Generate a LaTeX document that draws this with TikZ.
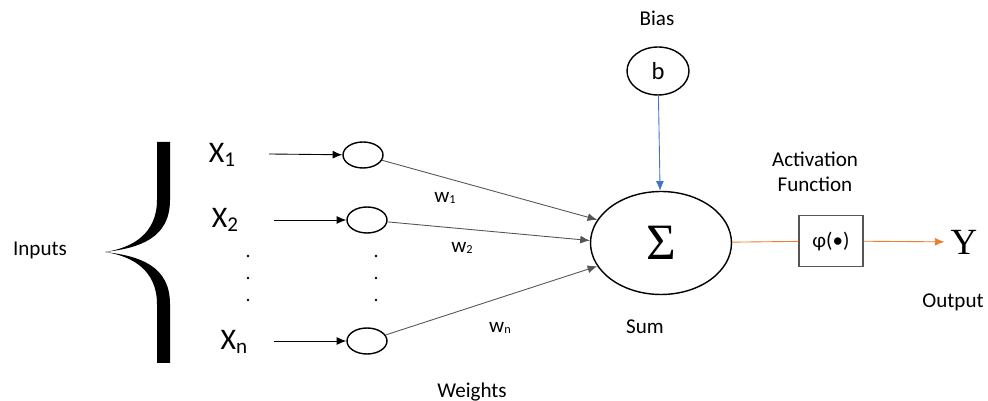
\documentclass[tikz,border=0pt]{standalone}
\usepackage{fontspec}
\setmainfont{Carlito}
\newfontfamily\serfont{Liberation Serif}
\usetikzlibrary{arrows.meta,shapes.geometric}
\definecolor{biasblue}{HTML}{4472C4}
\definecolor{outorange}{HTML}{ED7D31}
\definecolor{wgray}{HTML}{555555}
\newcommand{\inp}[1]{{\fontsize{17}{20}\selectfont X\raisebox{-0.25ex}{\fontsize{12}{14}\selectfont #1}}}
\newcommand{\wgt}[1]{w\raisebox{-0.15ex}{\fontsize{7}{8}\selectfont #1}}
\tikzset{
  lbl/.style={font=\fontsize{12}{14}\selectfont, align=center},
  wnode/.style={ellipse, draw, line width=0.8pt, minimum width=0.8cm, minimum height=0.52cm, inner sep=0pt},
  conn/.style={-{Latex[length=5.5pt,width=4.5pt]}, draw=wgray, line width=0.5pt},
}
\begin{document}
\begin{tikzpicture}[x=0.02cm,y=-0.02cm]
\useasboundingbox (0,0) rectangle (988,401);
% inputs and brace
\node[lbl] (inputs) at (40,250) {Inputs};
\fill (170,142) -- (170,200) .. controls (170,238) and (140,248) .. (105,252)
  .. controls (140,256) and (170,266) .. (170,304) -- (170,363) -- (157,363)
  -- (157,304) .. controls (157,270) and (132,256) .. (105,252)
  .. controls (132,248) and (157,234) .. (157,200) -- (157,142) -- cycle;
\node (x1) at (222,155) {\inp{1}};
\node (x2) at (225,220) {\inp{2}};
\node (xn) at (234,342) {\inp{n}};
\foreach \y in {256,278,300} {
  \fill (248,\y) circle (1.3);
  \fill (376,\y) circle (1.3);
}
\coordinate (s1) at (269,154);
\coordinate (s2) at (274,220);
\coordinate (sn) at (274,341);
% weight nodes
\node[wnode] (c1) at (363,155) {};
\node[wnode] (c2) at (367,220) {};
\node[wnode] (cn) at (367,341) {};
\draw[conn, draw=black] (s1) -- (c1);
\draw[conn, draw=black] (s2) -- (c2);
\draw[conn, draw=black] (sn) -- (cn);
% sum and bias
\node[ellipse, draw, line width=0.8pt, minimum width=2.82cm, minimum height=2.06cm, inner sep=0pt] (sum) at (661,243) {\fontsize{29}{32}\serfont Σ};
\node[ellipse, draw, line width=0.8pt, minimum width=1.24cm, minimum height=0.96cm, inner sep=0pt] (bias) at (658,71) {\fontsize{14}{16}\selectfont b};
\node[lbl] (biaslbl) at (657,18) {Bias};
\draw[conn, draw=biasblue] (bias) -- (sum);
\draw[conn] (c1) -- (sum.160);
\draw[conn] (c2) -- (sum.178);
\draw[conn] (cn) -- (sum.200);
\node[lbl] (w1) at (445,198) {\wgt{1}};
\node[lbl] (w2) at (462,248) {\wgt{2}};
\node[lbl] (wn) at (500,328) {\wgt{n}};
\node[lbl] (weights) at (472,392) {Weights};
\node[lbl] (sumlbl) at (645,327) {Sum};
% activation and output
\node[lbl] (act) at (815,172) {Activation\\Function};
\node[lbl, draw=wgray, line width=0.6pt, minimum width=1.28cm, minimum height=1.02cm, inner sep=0pt] (phi) at (831,241) {φ(•)};
\node (y) at (964,242) {\fontsize{21}{24}\serfont Y};
\node[lbl] (outlbl) at (953,302) {Output};
\draw[draw=outorange, line width=0.5pt] (sum) -- (phi);
\draw[conn, draw=outorange] (phi) -- (y);
\end{tikzpicture}
\end{document}
